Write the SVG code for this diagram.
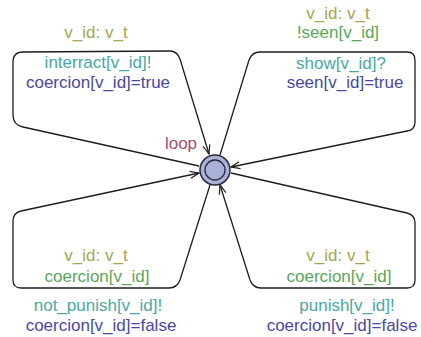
<svg xmlns="http://www.w3.org/2000/svg" width="421" height="337" viewBox="0 0 421 337">
<style>
text{font-family:"Liberation Sans",Arial,sans-serif;font-size:17px;text-anchor:middle}
.sel{fill:#a6a64e}
.grd{fill:#58a858}
.syn{fill:#48a8a8}
.upd{fill:#4848a6}
.nm{fill:#a24e74}
.edge{fill:none;stroke:#1e1e1e;stroke-width:1.3;marker-end:url(#arr)}
</style>
<defs>
<marker id="arr" markerUnits="userSpaceOnUse" markerWidth="12" markerHeight="10" viewBox="-10 -5 12 10" refX="0" refY="0" orient="auto">
<path d="M-9,-3.5 L0,0 L-9,3.5" fill="none" stroke="#1e1e1e" stroke-width="1.2"/>
</marker>
</defs>
<rect width="421" height="337" fill="#ffffff"/>
<g id="connectors">
<path class="edge" d="M199,166 L23,127 Q13,125 13,115 L13,62 Q13,52 23,52 L170,51 Q177,51 180,59 L209,154"/>
<path class="edge" d="M220,155 L249,60 Q252,52 260,52 L407,52 Q415,52 415,60 L415,122 Q415,130 407,131 L231,167"/>
<path class="edge" d="M210,185 L180,280 Q177,288 169,288 L21,288 Q13,288 13,280 L13,221 Q13,213 21,211 L199,173"/>
<path class="edge" d="M231,173 L407,213 Q415,215 415,223 L415,280 Q415,288 407,288 L261,288 Q253,288 250,280 L220,185"/>
</g>
<g id="loop">
<circle cx="215" cy="170" r="15" fill="#a9b1d9" stroke="#2a2a3a" stroke-width="1.5"/>
<circle cx="215" cy="170" r="10" fill="none" stroke="#2a2a3a" stroke-width="1.3"/>
<text class="nm" x="181" y="149">loop</text>
</g>
<g id="label-tl">
<text class="sel" x="96" y="38">v_id: v_t</text>
<text class="syn" x="98" y="68">interract[v_id]!</text>
<text class="upd" x="98" y="88">coercion[v_id]=true</text>
</g>
<g id="label-tr">
<text class="sel" x="338" y="19">v_id: v_t</text>
<text class="grd" x="338" y="38">!seen[v_id]</text>
<text class="syn" x="341" y="69">show[v_id]?</text>
<text class="upd" x="345" y="88">seen[v_id]=true</text>
</g>
<g id="label-bl">
<text class="sel" x="96" y="261">v_id: v_t</text>
<text class="grd" x="97" y="282">coercion[v_id]</text>
<text class="syn" x="98" y="311">not_punish[v_id]!</text>
<text class="upd" x="101" y="331">coercion[v_id]=false</text>
</g>
<g id="label-br">
<text class="sel" x="338" y="261">v_id: v_t</text>
<text class="grd" x="339" y="282">coercion[v_id]</text>
<text class="syn" x="347" y="311">punish[v_id]!</text>
<text class="upd" x="342" y="331">coercion[v_id]=false</text>
</g>
</svg>
